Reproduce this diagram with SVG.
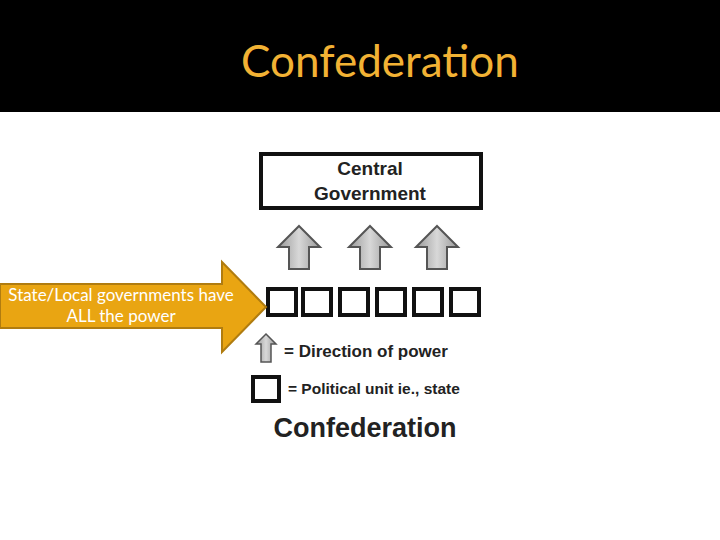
<svg xmlns="http://www.w3.org/2000/svg" width="720" height="540" viewBox="0 0 720 540">
<defs>
<style>
.sq{fill:#fff;stroke:#111;stroke-width:4}
.t{font-family:"Liberation Sans",Arial,sans-serif;font-weight:bold;fill:#222}
</style>
<linearGradient id="g" x1="0" x2="1"><stop offset="0" stop-color="#999"/><stop offset="0.5" stop-color="#d8d8d8"/><stop offset="1" stop-color="#999"/></linearGradient>
<path id="ua" d="M0,0 L21,21 L10,21 L10,43 L-10,43 L-10,21 L-21,21 Z"/>
</defs>
<rect width="720" height="540" fill="#fff"/>
<rect width="720" height="112" fill="#000"/>
<text x="380" y="77" text-anchor="middle" font-family="Lato,'Open Sans',sans-serif" font-size="44" fill="#f2b234">Confederation</text>
<g id="central">
<rect x="261" y="154" width="220" height="54" fill="#fff" stroke="#111" stroke-width="4"/>
<text class="t" x="370" y="175" text-anchor="middle" font-size="19" fill="#333">Central</text>
<text class="t" x="370" y="200" text-anchor="middle" font-size="19" fill="#333">Government</text>
</g>
<g id="connectors">
<use href="#ua" x="299" y="226" fill="url(#g)" stroke="#555" stroke-width="2"/>
<use href="#ua" x="370" y="226" fill="url(#g)" stroke="#555" stroke-width="2"/>
<use href="#ua" x="437" y="226" fill="url(#g)" stroke="#555" stroke-width="2"/>
</g>
<g id="states">
<rect class="sq" x="268" y="289" width="28" height="26"/>
<rect class="sq" x="303" y="289" width="28" height="26"/>
<rect class="sq" x="340" y="289" width="28" height="26"/>
<rect class="sq" x="377" y="289" width="28" height="26"/>
<rect class="sq" x="414" y="289" width="28" height="26"/>
<rect class="sq" x="451" y="289" width="28" height="26"/>
</g>
<g id="callout">
<path d="M0,284 L222,284 L222,262 L266,307 L222,352 L222,328 L0,328 Z" fill="#e9a512" stroke="#b07c10" stroke-width="2"/>
<text x="121" y="301" text-anchor="middle" font-family="Lato,'Open Sans',sans-serif" font-size="17" fill="#fff">State/Local governments have</text>
<text x="121" y="322" text-anchor="middle" font-family="Lato,'Open Sans',sans-serif" font-size="17" fill="#fff">ALL the power</text>
</g>
<g id="legend">
<path d="M266,334 L276,344 L271,344 L271,362 L261,362 L261,344 L256,344 Z" fill="url(#g)" stroke="#555" stroke-width="1.5"/>
<text class="t" x="284" y="357" font-size="17">= Direction of power</text>
<rect class="sq" x="253" y="377" width="26" height="24"/>
<text class="t" x="288" y="394" font-size="15.5">= Political unit ie., state</text>
<text class="t" x="365" y="437" text-anchor="middle" font-size="27">Confederation</text>
</g>
</svg>
